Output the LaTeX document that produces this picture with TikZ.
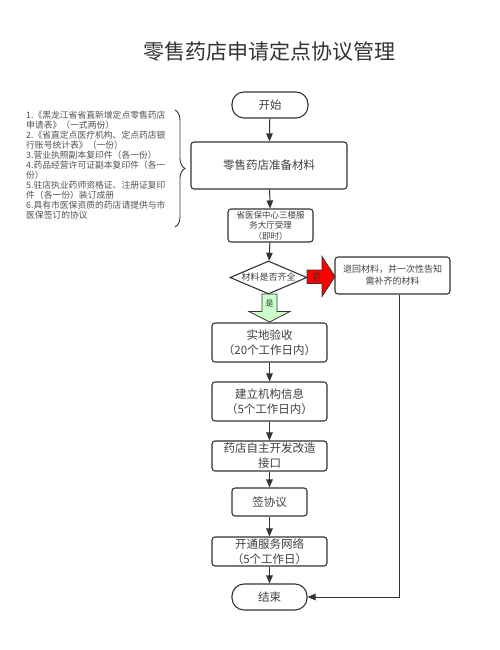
\documentclass[tikz,border=0pt]{standalone}
\usepackage{fontspec}
\setmainfont{Noto Sans CJK SC}
\usetikzlibrary{arrows.meta,shapes.geometric,decorations.pathreplacing,calc}
\definecolor{ln}{HTML}{333333}
\definecolor{tx}{HTML}{404040}
\definecolor{lt}{HTML}{505050}
\definecolor{gfill}{HTML}{CCFFCC}
\begin{document}
\begin{tikzpicture}[x=1pt,y=-1pt,
  bx/.style={draw=ln, line width=1.1pt, rounded corners=3pt, fill=white, text=tx,
    font=\fontsize{11.5}{15}\selectfont, align=center, inner sep=0pt},
  stad/.style={bx, rounded corners=12pt},
  arr/.style={draw=ln, line width=1pt, -{Stealth[length=8pt,width=6.5pt,inset=0pt]}},
  blk/.style={draw=ln, line width=0.8pt, line join=miter}
]
\useasboundingbox (0,0) rectangle (500,650);
\node[text=ln, font=\fontsize{21}{25}\selectfont] (title) at (269,52) {零售药店申请定点协议管理};

\node[stad, minimum width=76pt, minimum height=26pt] (start) at (270,105) {开始};
\node[bx, minimum width=156pt, minimum height=47pt] (prep) at (269,165.5) {零售药店准备材料};
\node[bx, minimum width=85pt, minimum height=33pt, font=\fontsize{8.5}{10.5}\selectfont] (recv) at (270.5,225.5) {省医保中心三楼服\\务大厅受理\\（即时）};
\node[diamond, aspect=2.33, draw=ln, line width=1.1pt, fill=white, text=tx, inner sep=0pt,
  minimum width=77pt, minimum height=33pt, font=\fontsize{9}{11}\selectfont] (dia) at (268.5,277.5) {材料是否齐全};
\node[bx, minimum width=115pt, minimum height=37pt, font=\fontsize{9}{12}\selectfont] (rej) at (392.5,275.5) {退回材料，并一次性告知\\需补齐的材料};
\node[bx, minimum width=115pt, minimum height=39pt] (check) at (269.5,342.5) {实地验收\\（20个工作日内）};
\node[bx, minimum width=115pt, minimum height=39pt] (build) at (269.5,401.5) {建立机构信息\\（5个工作日内）};
\node[bx, minimum width=115pt, minimum height=30pt] (dev) at (269.5,456) {药店自主开发改造\\接口};
\node[bx, minimum width=75pt, minimum height=28pt] (sign) at (269.5,502) {签协议};
\node[bx, minimum width=115pt, minimum height=29pt] (net) at (269.5,551.5) {开通服务网络\\（5个工作日）};
\node[stad, minimum width=75pt, minimum height=26pt] (end) at (269.5,597) {结束};

\node[anchor=west, align=left, text=lt, inner sep=0pt, font=\fontsize{8.8}{10}\selectfont] (list) at (26,165) {1.《黑龙江省省直新增定点零售药店\\申请表》（一式两份）\\2.《省直定点医疗机构、定点药店银\\行账号统计表》（一份）\\3.营业执照副本复印件（各一份）\\4.药品经营许可证副本复印件（各一\\份）\\5.驻店执业药师资格证、注册证复印\\件（各一份）装订成册\\6.具有市医保资质的药店请提供与市\\医保签订的协议};

\coordinate (bt) at (175,110);
\coordinate (bb) at (175,227);
\draw[draw=ln, line width=0.9pt, decorate, decoration={brace, amplitude=10pt}] (bt) -- (bb);

\draw[arr] (start) -- (prep);
\draw[arr] (prep) -- (recv);
\draw[arr] (recv) -- (dia);
\draw[arr] (check) -- (build);
\draw[arr] (build) -- (dev);
\draw[arr] (dev) -- (sign);
\draw[arr] (sign) -- (net);
\draw[arr] (net) -- (end);
\draw[arr] ([xshift=6.5pt]rej.south) |- (end.east);

% red "no" block arrow
\draw[blk, fill=red] (307,270) -- (322,270) -- (322,256.5) -- (335,276.5) -- (322,296.5) -- (322,283.5) -- (307,283.5) -- cycle;
\node[font=\fontsize{9}{10}\selectfont, text=ln] (no) at (317,277) {否};
% green "yes" block arrow
\draw[blk, fill=gfill] (262,294) -- (277,294) -- (277,311.5) -- (290,311.5) -- (269.5,322) -- (249,311.5) -- (262,311.5) -- cycle;
\node[font=\fontsize{8}{9}\selectfont, text=ln] (yes) at (269.5,304) {是};
\end{tikzpicture}
\end{document}
